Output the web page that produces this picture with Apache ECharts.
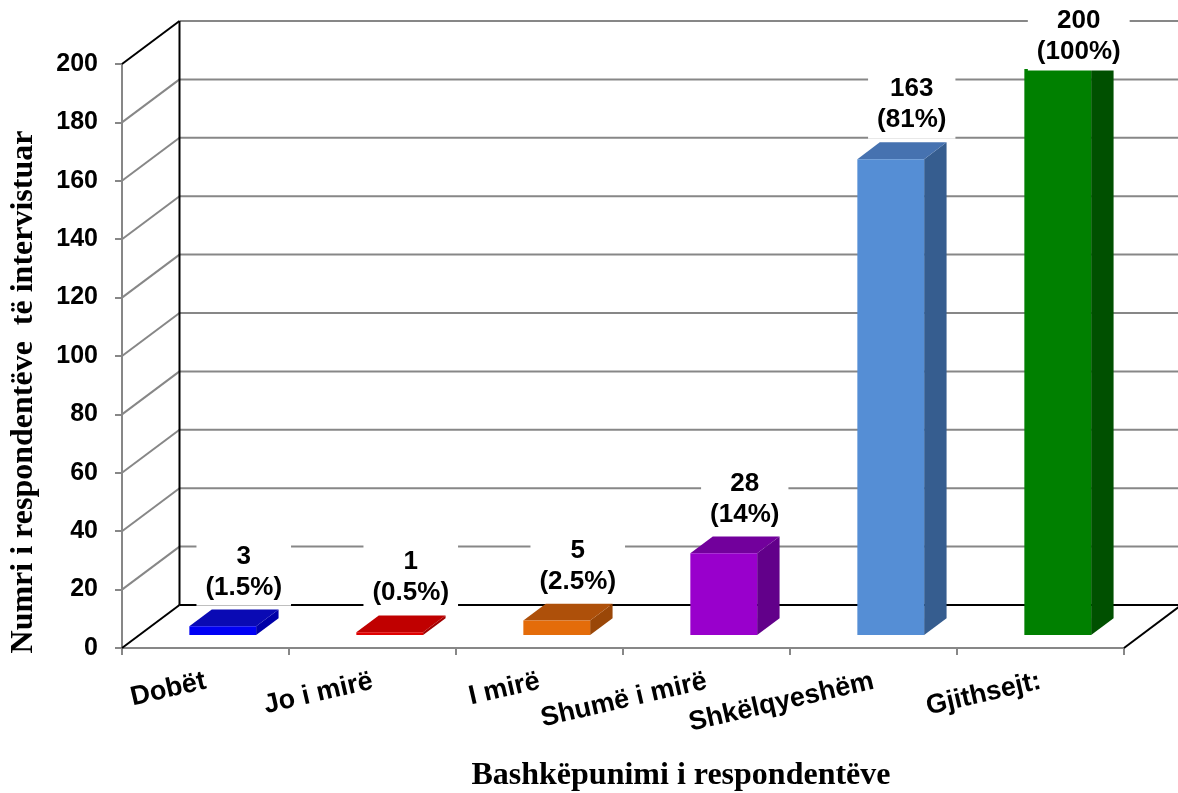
<!DOCTYPE html>
<html>
<head>
<meta charset="utf-8">
<title>Bashkëpunimi i respondentëve</title>
<script src="https://cdn.jsdelivr.net/npm/echarts@6/dist/echarts.min.js"></script>
<style>
  html, body { margin: 0; padding: 0; background: #fff; }
  #chart { width: 1178px; height: 793px; }
</style>
</head>
<body>
<div id="chart"></div>
<script>
// Survey answers: how the cooperation of respondents was rated
const categories = ['Dobët', 'Jo i mirë', 'I mirë', 'Shumë i mirë', 'Shkëlqyeshëm', 'Gjithsejt:'];
const counts = [3, 1, 5, 28, 163, 200];
const shares = ['1.5', '0.5', '2.5', '14', '81', '100'];
const yTicks = [0, 20, 40, 60, 80, 100, 120, 140, 160, 180, 200];

// Face colours for each column: front, top, side
const frontColors = ['#0000F5', '#E00000', '#E46C0A', '#9900CC', '#558ED5', '#008000'];
const topColors   = ['#0A0AB4', '#C00000', '#AE500A', '#72009C', '#4672B0', '#006400'];
const sideColors  = ['#0000A8', '#A00000', '#9A4708', '#62008A', '#365D8F', '#005000'];

// Oblique projection of the depth axis (pixels from front plane to back wall)
const DX = 57.5, DY = -43;
const BAR_FRONT = 0.3;   // depth at which the column's front face sits
const BAR_DEPTH = 0.39;  // depth of a column
const GRAY = '#878787';
const SANS = '"Liberation Sans", Arial, sans-serif';
const SERIF = '"Liberation Serif", "Times New Roman", serif';

const chart = echarts.init(document.getElementById('chart'));

function line(x1, y1, x2, y2, color) {
  return {
    type: 'line',
    shape: { x1, y1, x2, y2 },
    style: { stroke: color, lineWidth: 2 }
  };
}

// Back wall and side wall gridlines, one per value tick
function renderGrid(params, api) {
  const cs = params.coordSys;
  const v = api.value(0);
  const y = api.coord([0, v])[1];
  const x0 = cs.x, x1 = cs.x + cs.width;
  const edge = (v === yTicks[0] || v === yTicks[yTicks.length - 1]);
  return {
    type: 'group',
    children: [
      line(x0, y, x0 + DX, y + DY, edge ? '#000' : GRAY),
      line(x0 + DX, y + DY, x1 + DX, y + DY, v === yTicks[0] ? '#000' : GRAY)
    ]
  };
}

// Wall corner and right floor edge
function renderFrame(params, api) {
  const cs = params.coordSys;
  const yLow = api.coord([0, yTicks[0]])[1];
  const yHigh = api.coord([0, yTicks[yTicks.length - 1]])[1];
  const x0 = cs.x, x1 = cs.x + cs.width;
  return {
    type: 'group',
    children: [
      line(x0 + DX, yHigh + DY, x0 + DX, yLow + DY, '#000'),
      line(x1, yLow, x1 + DX, yLow + DY, '#000')
    ]
  };
}

// 3D column: front face, side face and (unless cut by the ceiling) top face
function renderBar(params, api) {
  const cs = params.coordSys;
  const i = api.value(0), v = api.value(1);
  const band = api.size([1, 0])[0];
  const w = band * 0.4;
  const cx = api.coord([i, 0])[0] + BAR_FRONT * DX;
  const yb = api.coord([i, 0])[1] + BAR_FRONT * DY;
  let yt = api.coord([i, v])[1] + BAR_FRONT * DY;
  const ceil = cs.y + 5;
  const cut = yt < ceil;
  if (cut) yt = ceil;
  const dx = BAR_DEPTH * DX, dy = BAR_DEPTH * DY;
  const xl = cx - w / 2, xr = cx + w / 2;
  const children = [];
  children.push({
    type: 'polygon',
    shape: { points: cut
      ? [[xr, yb], [xr + dx, yb + dy], [xr + dx, yt], [xr, yt]]
      : [[xr, yb], [xr + dx, yb + dy], [xr + dx, yt + dy], [xr, yt]] },
    style: { fill: sideColors[i] }
  });
  if (!cut) {
    children.push({
      type: 'polygon',
      shape: { points: [[xl, yt], [xr, yt], [xr + dx, yt + dy], [xl + dx, yt + dy]] },
      style: { fill: topColors[i] }
    });
  }
  children.push({
    type: 'rect',
    shape: { x: xl, y: yt, width: w, height: Math.max(yb - yt, 0.8) },
    style: { fill: frontColors[i] }
  });
  return { type: 'group', children };
}

// Count and share label above each column, on a white box
function renderLabel(params, api) {
  const cs = params.coordSys;
  const i = api.value(0), v = api.value(1);
  const cx = api.coord([i, 0])[0] + BAR_FRONT * DX;
  const yt = api.coord([i, v])[1] + BAR_FRONT * DY;
  const lh = 31, pad = 3;
  const lastLine = Math.max(yt - 39, cs.y - 12);
  return {
    type: 'text',
    z2: 10,
    style: {
      text: counts[i] + '\n(' + shares[i] + '%)',
      x: cx + 21,
      y: lastLine + lh / 2 + pad,
      align: 'center',
      verticalAlign: 'bottom',
      font: 'bold 26px ' + SANS,
      lineHeight: lh,
      fill: '#000',
      backgroundColor: '#fff',
      padding: [pad, 9, pad, 9]
    }
  };
}

const barData = counts.map((v, i) => [i, v]);

chart.setOption({
  backgroundColor: '#fff',
  animation: false,
  grid: { left: 122, right: 54, top: 64, bottom: 145, containLabel: false },
  xAxis: {
    type: 'category',
    data: categories,
    boundaryGap: true,
    axisLine: { lineStyle: { color: GRAY, width: 2 } },
    axisTick: { show: true, length: 7, alignWithLabel: false, lineStyle: { color: GRAY, width: 2 } },
    axisLabel: {
      rotate: 13,
      margin: 33,
      interval: 0,
      color: '#000',
      fontFamily: SANS,
      fontWeight: 'bold',
      fontSize: 27
    },
    splitLine: { show: false }
  },
  yAxis: {
    type: 'value',
    min: 0,
    max: 200,
    interval: 20,
    axisLine: { show: true, lineStyle: { color: GRAY, width: 2 } },
    axisTick: { show: true, length: 7, lineStyle: { color: GRAY, width: 2 } },
    axisLabel: {
      margin: 24,
      color: '#000',
      fontFamily: SANS,
      fontWeight: 'bold',
      fontSize: 25
    },
    splitLine: { show: false }
  },
  graphic: [
    {
      type: 'text',
      x: 24,
      y: 392,
      rotation: Math.PI / 2,
      style: {
        text: 'Numri i respondentëve  të intervistuar',
        font: 'bold 32px ' + SERIF,
        align: 'center',
        verticalAlign: 'middle',
        fill: '#000'
      }
    },
    {
      type: 'text',
      x: 681,
      y: 776,
      style: {
        text: 'Bashkëpunimi i respondentëve',
        font: 'bold 32px ' + SERIF,
        align: 'center',
        verticalAlign: 'middle',
        fill: '#000'
      }
    }
  ],
  series: [
    {
      type: 'custom',
      name: 'grid',
      z: 1,
      silent: true,
      clip: false,
      data: yTicks.map(v => [v]),
      renderItem: renderGrid
    },
    {
      type: 'custom',
      name: 'frame',
      z: 1,
      silent: true,
      clip: false,
      data: [[0]],
      renderItem: renderFrame
    },
    {
      type: 'custom',
      name: 'columns',
      z: 3,
      clip: false,
      data: barData,
      renderItem: renderBar
    },
    {
      type: 'custom',
      name: 'labels',
      z: 5,
      clip: false,
      data: barData,
      renderItem: renderLabel
    }
  ]
});
</script>
</body>
</html>
